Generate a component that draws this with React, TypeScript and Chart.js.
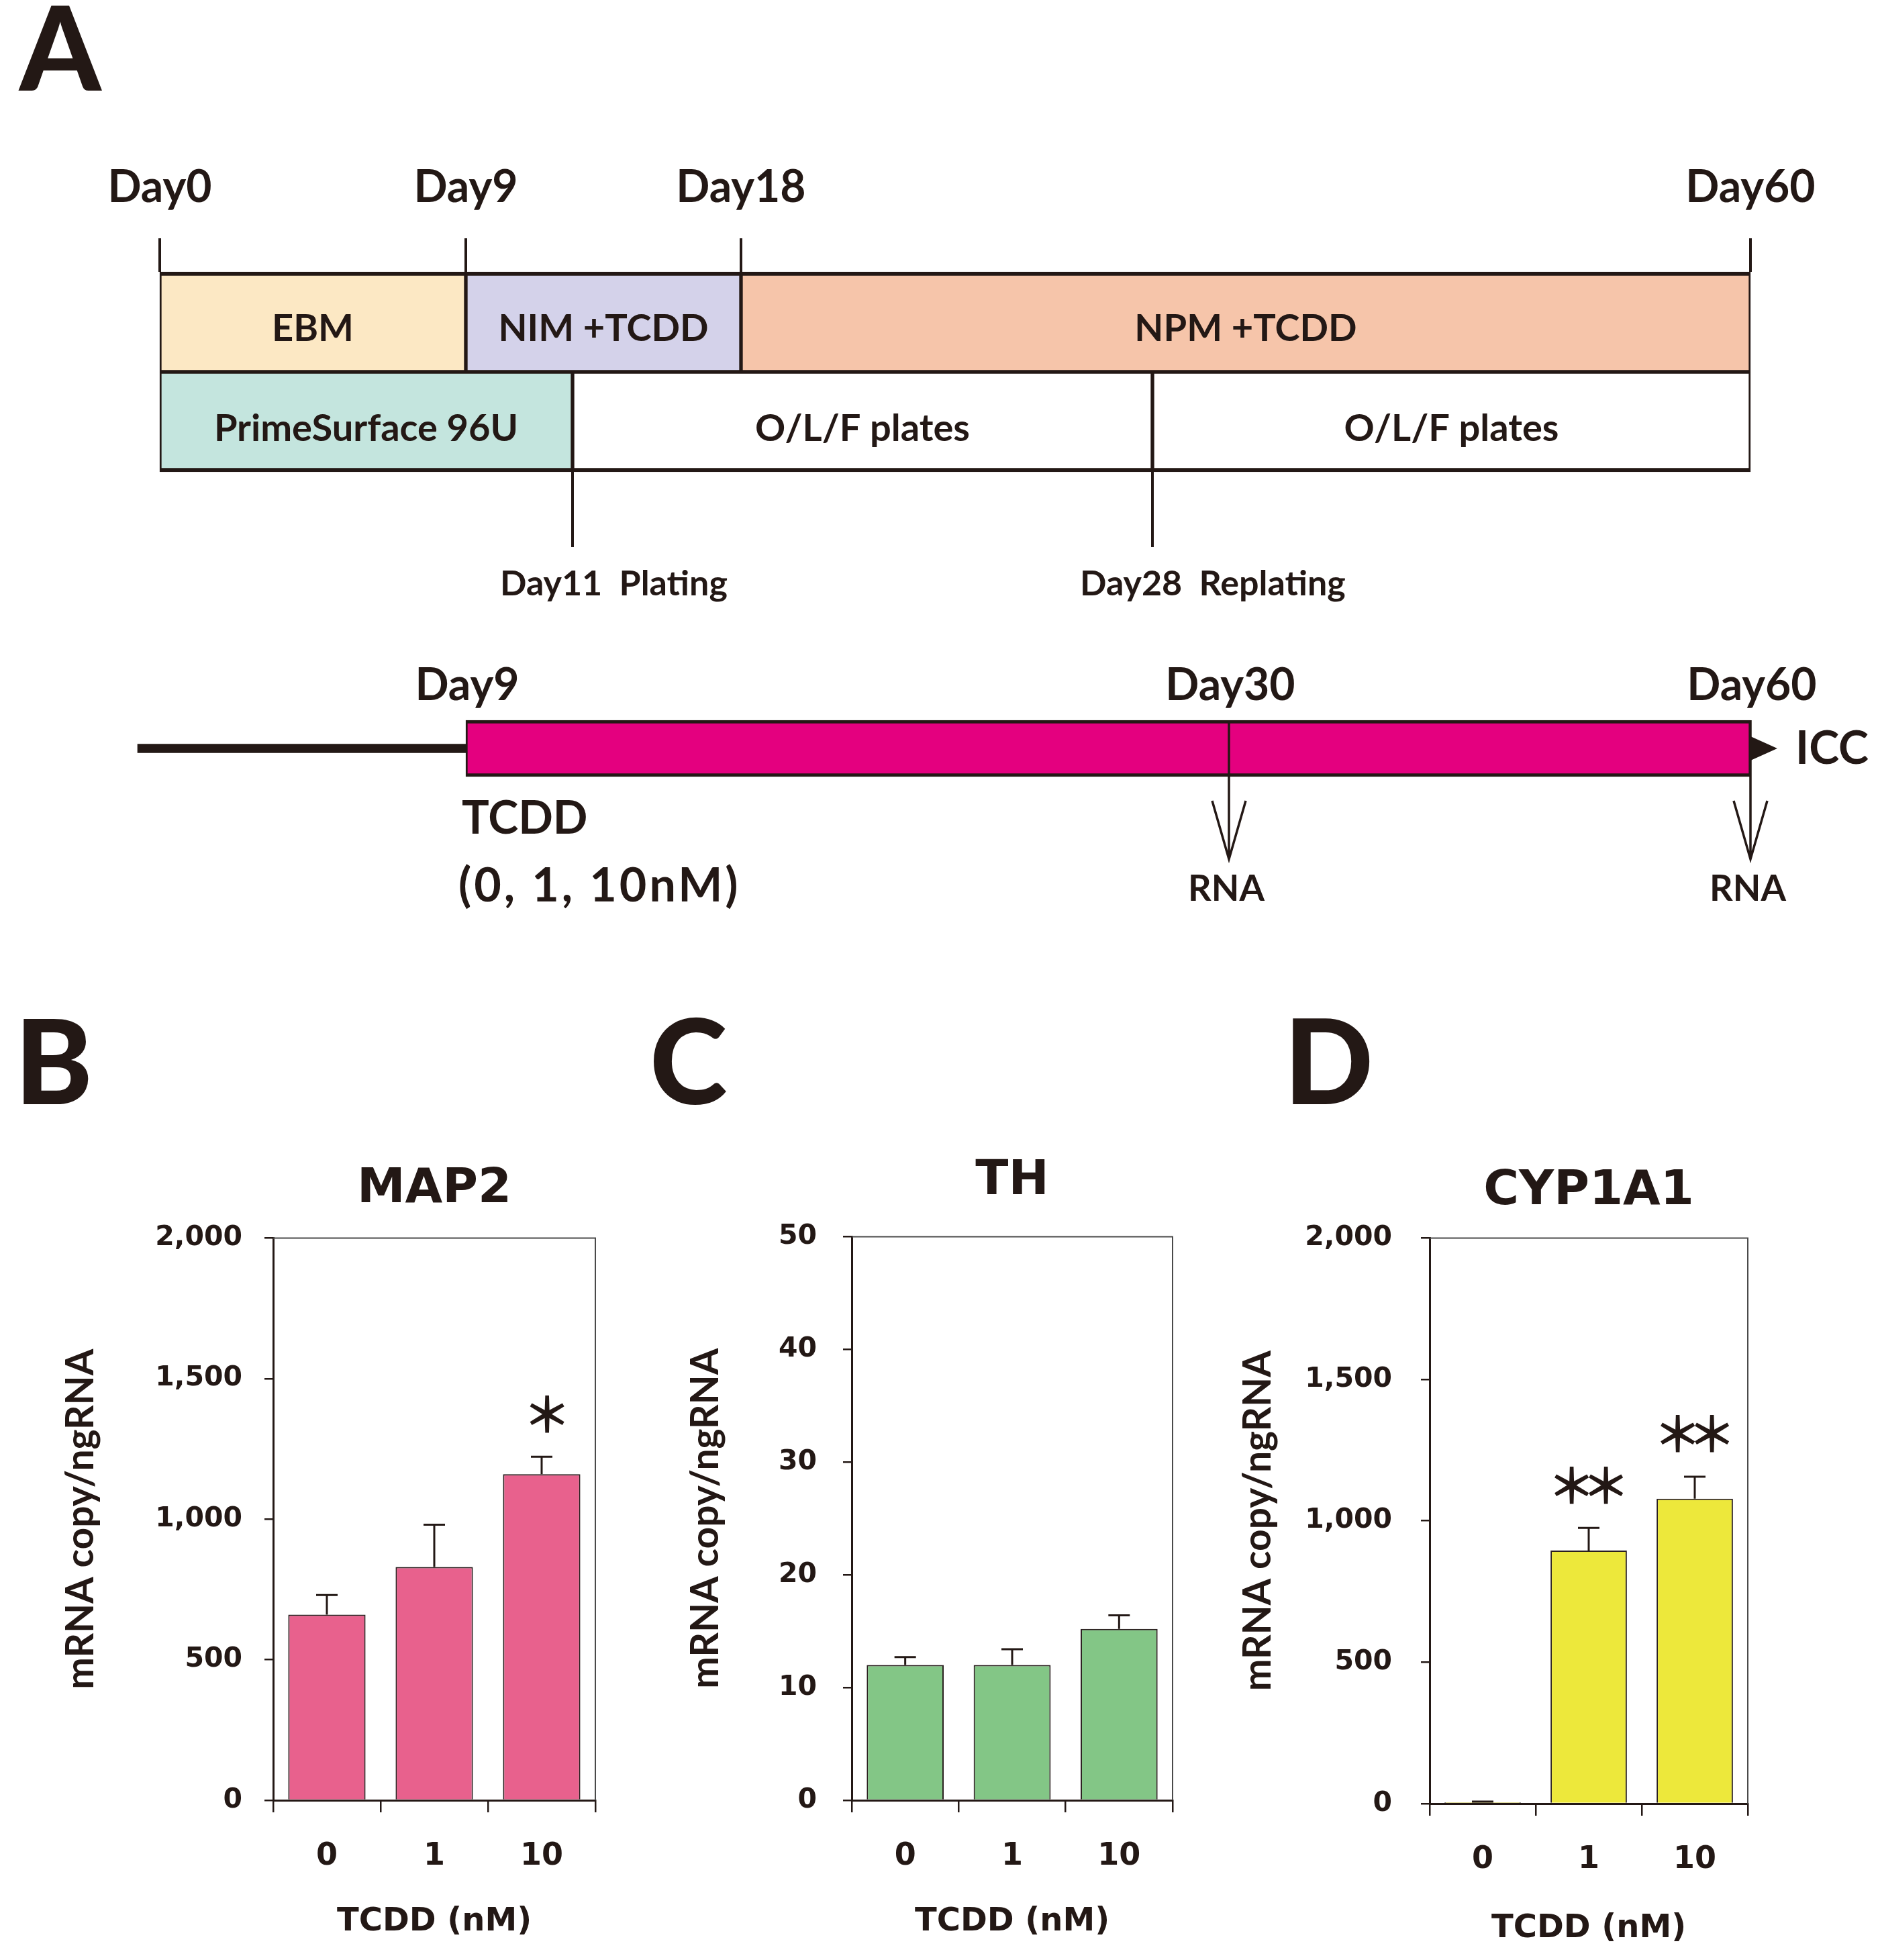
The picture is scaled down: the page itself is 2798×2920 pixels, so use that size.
import React, { useEffect, useRef } from 'react';
import { Chart, registerables, LinearScale } from 'chart.js';

// ---------------- data ----------------
// Panel A: culture schedule (days)
const mediumCaptions = ['EBM', 'NIM +TCDD', 'NPM +TCDD'];
const mediumStart = [0, 9, 18];
const mediumEnd = [9, 18, 60];
const plateCaptions = ['PrimeSurface 96U', 'O/L/F plates', 'O/L/F plates'];
const plateStart = [0, 11, 28];
const plateEnd = [11, 28, 60];
const headerDays = [0, 9, 18, 60];
const eventDays = [11, 28];
const eventNames = ['Plating', 'Replating'];
const preStart = -1;
const tcddStart = 9;
const tcddEnd = 60;
const treatmentDays = [9, 30, 60];
const rnaDays = [30, 60];
const doseNote = ['TCDD', '(0, 1, 10nM)'];

// Panels B-D: mRNA copy / ng RNA
const doseLabels = ['0', '1', '10'];
const map2Mean = [660, 830, 1160];
const map2Err = [70, 150, 62];
const map2Sig = [0, 0, 1];
const thMean = [12.0, 12.0, 15.2];
const thErr = [0.7, 1.4, 1.2];
const thSig = [0, 0, 0];
const cypMean = [5, 895, 1078];
const cypErr = [2, 80, 78];
const cypSig = [0, 2, 2];

// ---------------- styles / layout ----------------
const PAGE_W = 2798;
const PAGE_H = 2920;
const INK = '#231815';
const FONT_SANS = 'Lato, "Open Sans", sans-serif';
const FONT_WIDE = '"DejaVu Sans", Verdana, sans-serif';
const FONT_STAR = '"Noto Sans CJK JP", sans-serif';
const MEDIUM_COLORS = ['#FCE8C4', '#D4D2EA', '#F6C5AA'];
const PLATE_COLORS = ['#C4E5DE', '#FFFFFF', '#FFFFFF'];
const MAGENTA = '#E4007F';

// schematic (not-to-scale) day axis: knots of day -> page x
const KNOT_DAYS = [-1, 0, 9, 11, 18, 28, 30, 60];
const KNOT_PX = [205, 238, 694, 853, 1104, 1717, 1831, 2608];

class SchematicScale extends (LinearScale as any) {
  static id = 'schematic';
  static defaults = {};
  getPixelForValue(value: number) {
    const n = KNOT_DAYS.length;
    let px = KNOT_PX[0];
    if (value <= KNOT_DAYS[0]) px = KNOT_PX[0];
    else if (value >= KNOT_DAYS[n - 1]) px = KNOT_PX[n - 1];
    else {
      for (let i = 1; i < n; i++) {
        if (value <= KNOT_DAYS[i]) {
          const t = (value - KNOT_DAYS[i - 1]) / (KNOT_DAYS[i] - KNOT_DAYS[i - 1]);
          px = KNOT_PX[i - 1] + t * (KNOT_PX[i] - KNOT_PX[i - 1]);
          break;
        }
      }
    }
    return (this as any).getPixelForDecimal(px / PAGE_W);
  }
  getValueForPixel(pixel: number) {
    const px = (this as any).getDecimalForPixel(pixel) * PAGE_W;
    const n = KNOT_PX.length;
    if (px <= KNOT_PX[0]) return KNOT_DAYS[0];
    for (let i = 1; i < n; i++) {
      if (px <= KNOT_PX[i]) {
        const t = (px - KNOT_PX[i - 1]) / (KNOT_PX[i] - KNOT_PX[i - 1]);
        return KNOT_DAYS[i - 1] + t * (KNOT_DAYS[i] - KNOT_DAYS[i - 1]);
      }
    }
    return KNOT_DAYS[n - 1];
  }
}

Chart.register(...registerables, SchematicScale as any);

// ---------------- plugins ----------------
const topSchedulePlugin = {
  id: 'topSchedule',
  afterDatasetsDraw(chart: any) {
    const { ctx, chartArea: a } = chart;
    const x = chart.scales.x;
    ctx.save();
    ctx.fillStyle = INK;
    ctx.strokeStyle = INK;
    // captions in segments
    ctx.font = `bold 56px ${FONT_SANS}`;
    ctx.textAlign = 'center';
    ctx.textBaseline = 'alphabetic';
    chart.data.datasets.forEach((ds: any, di: number) => {
      const meta = chart.getDatasetMeta(di);
      meta.data.forEach((el: any, i: number) => {
        const p = el.getProps(['x', 'base', 'y'], true);
        ctx.fillText(ds.captions[i], (p.x + p.base) / 2, p.y + 0.36 * 56 + 8);
      });
    });
    // header day ticks and labels
    ctx.lineWidth = 4;
    ctx.font = `bold 66px ${FONT_SANS}`;
    headerDays.forEach((d) => {
      const px = x.getPixelForValue(d);
      ctx.beginPath();
      ctx.moveTo(px, a.top - 50);
      ctx.lineTo(px, a.top);
      ctx.stroke();
      ctx.fillText(`Day${d}`, px, a.top - 104);
    });
    // plating events below
    ctx.font = `bold 52px ${FONT_SANS}`;
    ctx.textAlign = 'left';
    eventDays.forEach((d, i) => {
      const px = x.getPixelForValue(d);
      ctx.beginPath();
      ctx.moveTo(px, a.bottom);
      ctx.lineTo(px, a.bottom + 112);
      ctx.stroke();
      ctx.fillText(`Day${d}  ${eventNames[i]}`, px - 108, a.bottom + 184);
    });
    ctx.restore();
  },
};

const bottomSchedulePlugin = {
  id: 'bottomSchedule',
  afterDatasetsDraw(chart: any) {
    const { ctx, chartArea: a } = chart;
    const x = chart.scales.x;
    const cy = (a.top + a.bottom) / 2;
    ctx.save();
    ctx.fillStyle = INK;
    ctx.strokeStyle = INK;
    ctx.textBaseline = 'alphabetic';
    ctx.textAlign = 'center';
    ctx.font = `bold 66px ${FONT_SANS}`;
    treatmentDays.forEach((d) => {
      ctx.fillText(`Day${d}`, x.getPixelForValue(d) + 2, a.top - 30);
    });
    // sampling arrows
    ctx.lineWidth = 3.5;
    ctx.font = `bold 54px ${FONT_SANS}`;
    rnaDays.forEach((d) => {
      const px = x.getPixelForValue(d);
      ctx.beginPath();
      ctx.moveTo(px, a.top);
      ctx.lineTo(px, a.bottom + 123);
      ctx.moveTo(px - 25, a.bottom + 36);
      ctx.lineTo(px, a.bottom + 123);
      ctx.lineTo(px + 25, a.bottom + 36);
      ctx.stroke();
      ctx.fillText('RNA', px - 4, a.bottom + 185);
    });
    // end triangle and ICC
    const ex = x.getPixelForValue(tcddEnd);
    ctx.beginPath();
    ctx.moveTo(ex, cy - 18);
    ctx.lineTo(ex + 40, cy);
    ctx.lineTo(ex, cy + 18);
    ctx.closePath();
    ctx.fill();
    ctx.textAlign = 'left';
    ctx.font = `bold 68px ${FONT_SANS}`;
    ctx.fillText('ICC', ex + 67, cy + 23);
    // dose note
    const sx = x.getPixelForValue(tcddStart);
    ctx.fillText(doseNote[0], sx - 6, a.bottom + 85);
    ctx.font = `bold 70px ${FONT_SANS}`;
    (ctx as any).letterSpacing = '4px';
    ctx.fillText(doseNote[1], sx - 11, a.bottom + 186);
    (ctx as any).letterSpacing = '0px';
    ctx.restore();
  },
};

const errorBarPlugin = {
  id: 'errorBars',
  afterDatasetsDraw(chart: any, _args: any, opts: any) {
    const { ctx } = chart;
    const y = chart.scales.y;
    const meta = chart.getDatasetMeta(0);
    const values = chart.data.datasets[0].data;
    ctx.save();
    ctx.strokeStyle = INK;
    ctx.fillStyle = INK;
    ctx.lineWidth = 3;
    meta.data.forEach((bar: any, i: number) => {
      const v = values[i];
      const e = opts.errors[i];
      const yTop = y.getPixelForValue(v + e);
      const yBar = y.getPixelForValue(v);
      ctx.beginPath();
      ctx.moveTo(bar.x, yBar);
      ctx.lineTo(bar.x, yTop);
      ctx.moveTo(bar.x - 16, yTop);
      ctx.lineTo(bar.x + 16, yTop);
      ctx.stroke();
      const n = opts.marks[i];
      ctx.font = `bold 72px ${FONT_STAR}`;
      ctx.textAlign = 'center';
      ctx.textBaseline = 'middle';
      for (let k = 0; k < n; k++) {
        ctx.fillText('＊', bar.x + (k - (n - 1) / 2) * 51 + (n === 1 ? 8 : 0), yTop - 64);
      }
    });
    ctx.restore();
  },
};

const framePlugin = {
  id: 'frame',
  afterDraw(chart: any) {
    const { ctx, chartArea: a } = chart;
    ctx.save();
    ctx.strokeStyle = '#4a4a4a';
    ctx.lineWidth = 2;
    ctx.beginPath();
    ctx.moveTo(a.left, a.top);
    ctx.lineTo(a.right, a.top);
    ctx.lineTo(a.right, a.bottom);
    ctx.stroke();
    ctx.restore();
  },
};

// ---------------- configs ----------------
function topScheduleConfig(): any {
  return {
    type: 'bar',
    data: {
      labels: ['medium', 'plate'],
      datasets: [
        {
          data: mediumStart.map((s, i) => ({ x: [s, mediumEnd[i]], y: 'medium' })),
          captions: mediumCaptions,
          backgroundColor: MEDIUM_COLORS,
          borderColor: INK,
          borderWidth: { top: 6, bottom: 3, left: 3, right: 3 },
          borderSkipped: false,
          grouped: false,
          barPercentage: 1,
          categoryPercentage: 1,
          clip: false,
        },
        {
          data: plateStart.map((s, i) => ({ x: [s, plateEnd[i]], y: 'plate' })),
          captions: plateCaptions,
          backgroundColor: PLATE_COLORS,
          borderColor: INK,
          borderWidth: { top: 3, bottom: 6, left: 3, right: 3 },
          borderSkipped: false,
          grouped: false,
          barPercentage: 1,
          categoryPercentage: 1,
          clip: false,
        },
      ],
    },
    options: {
      indexAxis: 'y',
      responsive: false,
      animation: false,
      devicePixelRatio: 1,
      layout: { padding: { top: 205, bottom: 247, left: 0, right: 0 } },
      plugins: { legend: { display: false }, tooltip: { enabled: false } },
      scales: {
        x: { type: 'schematic', min: -1, max: 60, display: false },
        y: { type: 'category', display: false },
      },
    },
    plugins: [topSchedulePlugin],
  };
}

function bottomScheduleConfig(): any {
  return {
    type: 'bar',
    data: {
      labels: ['TCDD'],
      datasets: [
        {
          data: [{ x: [preStart, tcddStart], y: 'TCDD' }],
          backgroundColor: INK,
          borderWidth: 0,
          barThickness: 13,
          grouped: false,
          clip: false,
        },
        {
          data: [{ x: [tcddStart, tcddEnd], y: 'TCDD' }],
          backgroundColor: MAGENTA,
          borderColor: INK,
          borderWidth: { top: 5, bottom: 5, left: 3, right: 3 },
          borderSkipped: false,
          grouped: false,
          barPercentage: 1,
          categoryPercentage: 1,
          clip: false,
        },
      ],
    },
    options: {
      indexAxis: 'y',
      responsive: false,
      animation: false,
      devicePixelRatio: 1,
      layout: { padding: { top: 123, bottom: 243, left: 0, right: 0 } },
      plugins: { legend: { display: false }, tooltip: { enabled: false } },
      scales: {
        x: { type: 'schematic', min: -1, max: 60, display: false },
        y: { type: 'category', display: false },
      },
    },
    plugins: [bottomSchedulePlugin],
  };
}

function barConfig(p: any): any {
  return {
    type: 'bar',
    data: {
      labels: doseLabels,
      datasets: [
        {
          data: p.mean,
          backgroundColor: p.color,
          borderColor: '#2a1f1f',
          borderWidth: 2,
          barPercentage: 0.72,
          categoryPercentage: 1,
        },
      ],
    },
    options: {
      responsive: false,
      animation: false,
      devicePixelRatio: 1,
      layout: { padding: { left: 0, right: p.padRight, top: 0, bottom: 0 } },
      plugins: {
        legend: { display: false },
        tooltip: { enabled: false },
        title: {
          display: true,
          fullSize: false,
          text: p.title,
          color: INK,
          font: { family: FONT_WIDE, weight: 'bold', size: 72, lineHeight: 1.2 },
          padding: { top: p.titlePadTop, bottom: p.titlePadBottom },
        },
        errorBars: { errors: p.err, marks: p.sig },
      },
      scales: {
        x: {
          grid: { offset: true, drawOnChartArea: false, drawTicks: true, tickLength: 18, color: INK, lineWidth: 2.5 },
          border: { display: true, color: INK, width: 3 },
          ticks: { color: INK, font: { family: FONT_WIDE, weight: 'bold', size: 46 }, padding: 38 },
          title: {
            display: true,
            text: 'TCDD (nM)',
            color: INK,
            font: { family: FONT_WIDE, weight: 'bold', size: 48, lineHeight: 1.2 },
            padding: { top: 0, bottom: p.xTitlePadBottom },
          },
          afterFit: (s: any) => {
            s.height = p.xHeight;
          },
        },
        y: {
          min: 0,
          max: p.max,
          ticks: {
            stepSize: p.step,
            color: INK,
            font: { family: FONT_WIDE, weight: 'bold', size: 41 },
            padding: p.yTickPad,
            callback: (v: any) => Number(v).toLocaleString('en-US'),
          },
          grid: { drawOnChartArea: false, drawTicks: true, tickLength: 13, color: INK, lineWidth: 2.5 },
          border: { display: true, color: INK, width: 3 },
          title: {
            display: true,
            text: 'mRNA copy/ngRNA',
            color: INK,
            font: { family: FONT_SANS, weight: 'bold', size: 57, lineHeight: 1.2 },
            padding: { top: p.yTitlePadTop, bottom: 0 },
          },
          afterFit: (s: any) => {
            s.width = p.yWidth;
          },
        },
      },
    },
    plugins: [errorBarPlugin, framePlugin],
  };
}

const PANEL_B = {
  title: 'MAP2', mean: map2Mean, err: map2Err, sig: map2Sig, max: 2000, step: 500, color: '#E8618D',
  left: 0, top: 1680, width: 940, height: 1240,
  yWidth: 407, padRight: 53, xHeight: 238, titlePadTop: 49, titlePadBottom: 29,
  yTitlePadTop: 86, yTickPad: 33, xTitlePadBottom: 28,
};
const PANEL_C = {
  title: 'TH', mean: thMean, err: thErr, sig: thSig, max: 50, step: 10, color: '#83C686',
  left: 940, top: 1680, width: 900, height: 1240,
  yWidth: 329, padRight: 93, xHeight: 238, titlePadTop: 37, titlePadBottom: 39,
  yTitlePadTop: 77, yTickPad: 39, xTitlePadBottom: 28,
};
const PANEL_D = {
  title: 'CYP1A1', mean: cypMean, err: cypErr, sig: cypSig, max: 2000, step: 500, color: '#EDE83B',
  left: 1840, top: 1680, width: 958, height: 1240,
  yWidth: 290, padRight: 194, xHeight: 233, titlePadTop: 52, titlePadBottom: 26,
  yTitlePadTop: 0, yTickPad: 43, xTitlePadBottom: 18,
};

const letterStyle = (left: number, top: number, size: number): any => ({
  position: 'absolute',
  left,
  top,
  fontFamily: FONT_SANS,
  fontWeight: 900,
  fontSize: size,
  lineHeight: 1,
  color: INK,
  margin: 0,
});

export default function App() {
  const a1 = useRef<HTMLCanvasElement>(null);
  const a2 = useRef<HTMLCanvasElement>(null);
  const b = useRef<HTMLCanvasElement>(null);
  const c = useRef<HTMLCanvasElement>(null);
  const d = useRef<HTMLCanvasElement>(null);

  useEffect(() => {
    const charts = [
      new Chart(a1.current as any, topScheduleConfig()),
      new Chart(a2.current as any, bottomScheduleConfig()),
      new Chart(b.current as any, barConfig(PANEL_B)),
      new Chart(c.current as any, barConfig(PANEL_C)),
      new Chart(d.current as any, barConfig(PANEL_D)),
    ];
    return () => charts.forEach((ch) => ch.destroy());
  }, []);

  const panelCanvas = (ref: any, p: any) => (
    <canvas ref={ref} width={p.width} height={p.height} style={{ position: 'absolute', left: p.left, top: p.top }} />
  );

  return (
    <div style={{ position: 'absolute', left: 0, top: 0, width: PAGE_W, height: PAGE_H, background: '#ffffff', overflow: 'hidden' }}>
      <div style={letterStyle(29, -18, 173)}>A</div>
      <div style={letterStyle(22, 1490, 175)}>B</div>
      <div style={letterStyle(968, 1490, 175)}>C</div>
      <div style={letterStyle(1913, 1490, 175)}>D</div>
      <canvas ref={a1} width={PAGE_W} height={750} style={{ position: 'absolute', left: 0, top: 200 }} />
      <canvas ref={a2} width={PAGE_W} height={450} style={{ position: 'absolute', left: 0, top: 950 }} />
      {panelCanvas(b, PANEL_B)}
      {panelCanvas(c, PANEL_C)}
      {panelCanvas(d, PANEL_D)}
    </div>
  );
}
